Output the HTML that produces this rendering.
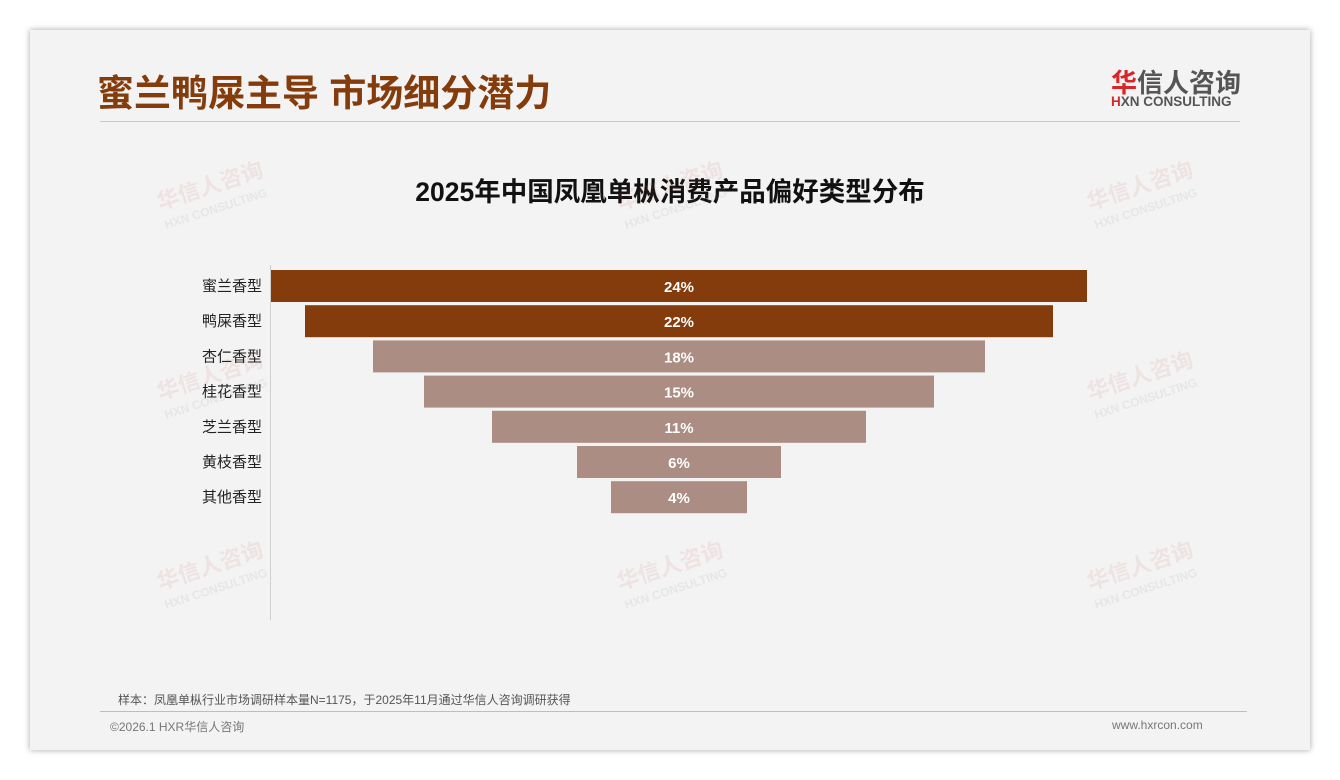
<!DOCTYPE html>
<html><head><meta charset="utf-8"><style>
body{margin:0;width:1340px;height:780px;background:#fff;position:relative;overflow:hidden;font-family:"Liberation Sans","Noto Sans CJK SC",sans-serif}
.card{position:absolute;left:30px;top:30px;width:1280px;height:720px;background:#f3f3f3;box-shadow:0 0 6px rgba(0,0,0,0.35)}
.t{position:absolute;white-space:nowrap}
</style></head><body>
<div class="card"></div>
<div class="t" style="left:97px;top:72px;font-size:37px;font-weight:bold;color:#843c0c;line-height:44px">蜜兰鸭屎主导 市场细分潜力</div>
<div class="t" style="left:1111px;top:63px;font-size:26px;font-weight:bold;color:#555"><span style="color:#d9262a">华</span>信人咨询</div>
<div class="t" style="left:1111px;top:94px;font-size:13.5px;font-weight:bold;color:#555"><span style="color:#d9262a">H</span>XN CONSULTING</div>
<div style="position:absolute;left:100px;top:121px;width:1140px;height:1px;background:#c8c8c8"></div>
<div class="t" style="left:0;width:1340px;text-align:center;top:170px;font-size:26.5px;font-weight:bold;color:#111">2025年中国凤凰单枞消费产品偏好类型分布</div>
<svg id="chart" width="1340" height="780" style="position:absolute;left:0;top:0"></svg>
<div class="t" style="left:118px;top:691px;font-size:12px;color:#555">样本：凤凰单枞行业市场调研样本量N=1175，于2025年11月通过华信人咨询调研获得</div>
<div style="position:absolute;left:100px;top:711px;width:1147px;height:1px;background:#d6b8a0"></div>
<div class="t" style="left:110px;top:718px;font-size:12px;color:#777">©2026.1 HXR华信人咨询</div>
<div class="t" style="left:1112px;top:718px;font-size:12px;color:#777">www.hxrcon.com</div>
<script>
const categories=["蜜兰香型","鸭屎香型","杏仁香型","桂花香型","芝兰香型","黄枝香型","其他香型"];
const values=[24,22,18,15,11,6,4];
const labels=["24%","22%","18%","15%","11%","6%","4%"];
const ns="http://www.w3.org/2000/svg";
const svg=document.getElementById('chart');
const cx=679,maxW=816,maxV=24,top0=270,step=35.2,bh=32;
const w=v=>v/maxV*maxW;
const y=i=>top0+i*step;
function mk(t,a){const e=document.createElementNS(ns,t);for(const k in a)e.setAttribute(k,a[k]);svg.appendChild(e);return e;}
[[160,210],[620,210],[1090,210],[160,400],[1090,400],[160,590],[620,590],[1090,590]].forEach(p=>{
 const g=mk('text',{x:p[0],y:p[1],'font-size':22,'font-weight':'bold',fill:'rgba(210,80,80,0.10)',transform:`rotate(-18 ${p[0]} ${p[1]})`});
 g.textContent='华信人咨询';
 
 
 const g2=mk('text',{x:p[0],y:p[1]+20,'font-size':12,'font-weight':'bold',fill:'rgba(150,150,150,0.13)',transform:`rotate(-18 ${p[0]} ${p[1]})`});
 g2.textContent='HXN CONSULTING';
 
 
});
const ax=mk('line',{x1:270.5,y1:265,x2:270.5,y2:620,stroke:'#d0d0d0','stroke-width':1});


values.forEach((v,i)=>{
 const r=mk('rect',{x:cx-w(v)/2,y:y(i),width:w(v),height:bh,fill:i<2?'#843c0c':'#ab8d83'});
 
 
 const t=mk('text',{x:cx,y:y(i)+bh/2+6,'text-anchor':'middle','font-size':15,'font-weight':'bold',fill:'#fff','font-family':'Liberation Sans, sans-serif'});
 t.textContent=labels[i];
 
 
 const c=mk('text',{x:262,y:y(i)+bh/2+5,'text-anchor':'end','font-size':15,fill:'#222','font-family':'Liberation Sans, Noto Sans CJK SC, sans-serif'});
 c.textContent=categories[i];
 
 
});
</script>
</body></html>
